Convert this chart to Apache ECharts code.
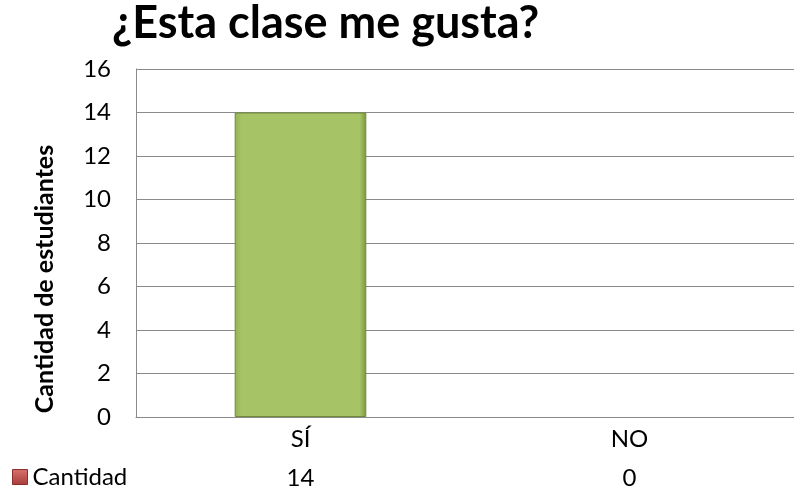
<!DOCTYPE html>
<html>
<head>
<meta charset="utf-8">
<script src="https://cdn.jsdelivr.net/npm/echarts@6/dist/echarts.min.js"></script>
<style>
html,body{margin:0;padding:0;background:#fff;}
#c{width:794px;height:491px;}
</style>
</head>
<body>
<div id="c"></div>
<script>
const titleText = '¿Esta clase me gusta?';
const yAxisTitle = 'Cantidad de estudiantes';
const seriesName = 'Cantidad';
const categories = ['SÍ', 'NO'];
const values = [14, 0];
const yTicks = {min: 0, max: 16, interval: 2};

const FONT = 'Lato';
const FS = 24;
const chart = echarts.init(document.getElementById('c'), null, {renderer: 'canvas'});
chart.setOption({
  animation: false,
  backgroundColor: '#ffffff',
  title: {
    text: titleText,
    left: 107, top: -4,
    textStyle: {fontFamily: FONT, fontWeight: 'bold', fontSize: 45, color: '#000'}
  },
  legend: {
    data: [{name: seriesName, icon: 'rect', itemStyle: {color: {type:'linear',x:0,y:0,x2:0,y2:1,colorStops:[{offset:0,color:'#d8716d'},{offset:1,color:'#a83d3a'}]}, borderColor:'#8c2f2c', borderWidth:1}}],
    left: 12, top: 465, padding: 0,
    itemWidth: 15, itemHeight: 15, itemGap: 6,
    textStyle: {fontFamily: FONT, fontSize: FS, color: '#000'}
  },
  grid: {left: 136, top: 69, width: 668, height: 348, containLabel: false},
  xAxis: [{
    type: 'category', data: categories,
    axisLine: {show: true, lineStyle: {color: '#8a8a8a', width: 1}},
    axisTick: {show: false},
    axisLabel: {fontFamily: FONT, fontSize: FS, color: '#000', margin: 10}
  }, {
    type: 'category', data: categories, position: 'bottom', offset: 39,
    axisLine: {show: false}, axisTick: {show: false},
    axisLabel: {fontFamily: FONT, fontSize: FS, color: '#000', margin: 10,
      formatter: (v, i) => String(values[i])}
  }],
  yAxis: {
    type: 'value', min: yTicks.min, max: yTicks.max, interval: yTicks.interval,
    axisLine: {show: true, lineStyle: {color: '#8a8a8a', width: 1}},
    axisTick: {show: false},
    splitLine: {show: true, lineStyle: {color: '#8a8a8a', width: 1}},
    axisLabel: {fontFamily: FONT, fontSize: FS, color: '#000', margin: 25}
  },
  graphic: [{
    type: 'text', x: 45, y: 279, rotation: Math.PI/2,
    style: {text: yAxisTitle, fontFamily: FONT, fontWeight: 'bold', fontSize: 25, fill: '#000', align: 'center', verticalAlign: 'middle'}
  }],
  series: [{
    name: seriesName, type: 'bar', xAxisIndex: 0,
    data: values.map(v => ({value: v, itemStyle: {borderWidth: v === 0 ? 0 : 1}})),
    barWidth: '40%',
    itemStyle: {
      color: {type:'linear', x:0, y:0, x2:1, y2:0, colorStops:[
        {offset:0, color:'#94b254'}, {offset:0.05, color:'#a6c465'}, {offset:0.95, color:'#a6c465'}, {offset:1, color:'#7a9541'}]},
      borderColor: '#6f8a38', borderWidth: 1
    }
  }]
});
</script>
</body>
</html>
